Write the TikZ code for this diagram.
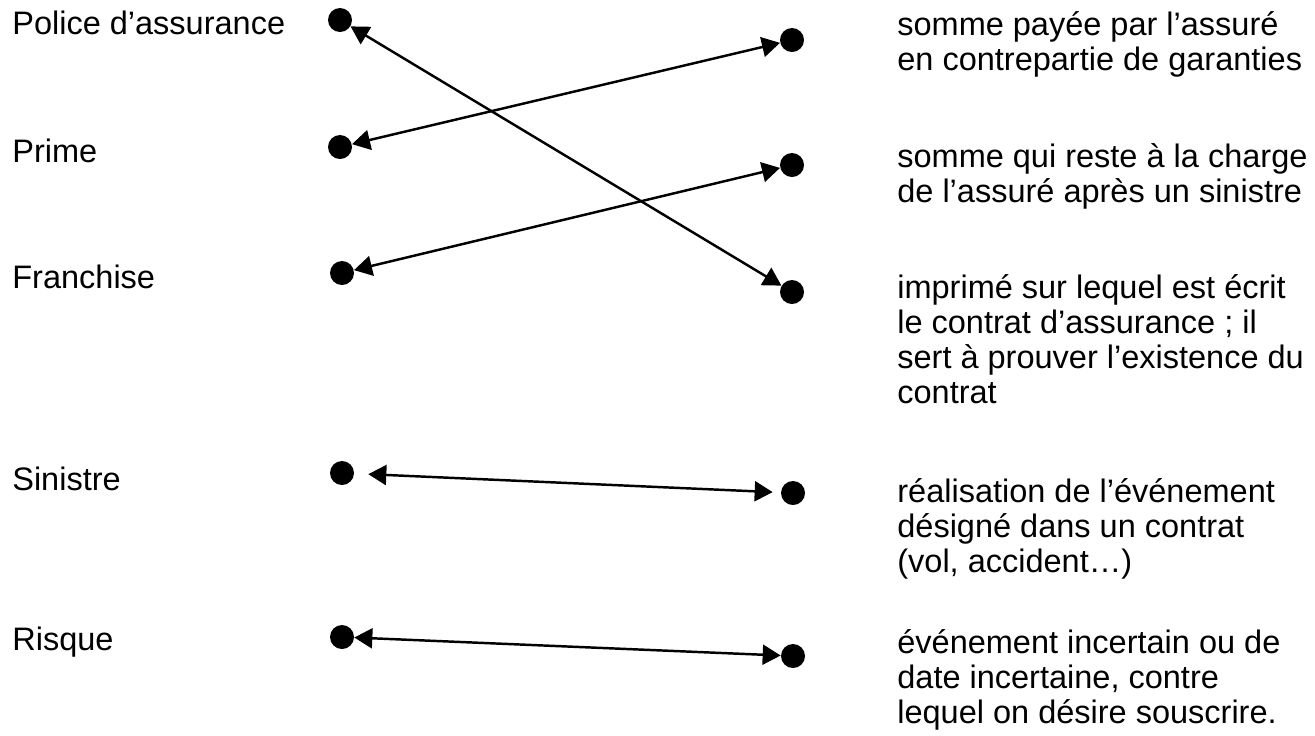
\documentclass[tikz,border=0pt]{standalone}
\usepackage{fontspec}
\setmainfont{Liberation Sans}
\usetikzlibrary{arrows.meta, positioning}

\begin{document}
\begin{tikzpicture}[x=0.02cm, y=-0.02cm,
    dot/.style={circle, fill=black, inner sep=0pt, minimum size=0.48cm},
    term/.style={anchor=base west, inner sep=0pt, font=\fontsize{18.5}{19.9}\selectfont},
    defn/.style={anchor=base west, inner sep=0pt, align=left, font=\fontsize{18.5}{19.9}\selectfont},
    link/.style={{Triangle[length=0.36cm,width=0.4cm]}-{Triangle[length=0.36cm,width=0.4cm]}, line width=1.4pt}]
    \useasboundingbox (0,0) rectangle (1315,735);

    % mots
    \node[term] (police) at (12,34) {Police d’assurance};
    \node[term] (prime) at (12,162) {Prime};
    \node[term] (franchise) at (12,288) {Franchise};
    \node[term] (sinistre) at (12,490) {Sinistre};
    \node[term] (risque) at (12,650) {Risque};

    % definitions (ancre sur la derniere ligne)
    \node[defn] (def1) at (897,70) {somme payée par l’assuré\\en contrepartie de garanties};
    \node[defn] (def2) at (897,202) {somme qui reste à la charge\\de l’assuré après un sinistre};
    \node[defn] (def3) at (897,403) {imprimé sur lequel est écrit\\le contrat d’assurance ; il\\sert à prouver l’existence du\\contrat};
    \node[defn] (def4) at (897,572) {réalisation de l’événement\\désigné dans un contrat\\(vol, accident…)};
    \node[defn] (def5) at (897,723) {événement incertain ou de\\date incertaine, contre\\lequel on désire souscrire.};

    % points
    \node[dot] (l1) at (340,20) {};
    \node[dot] (l2) at (340,147) {};
    \node[dot] (l3) at (342,273) {};
    \node[dot] (l4) at (342,473) {};
    \node[dot] (l5) at (342,637) {};
    \node[dot] (r1) at (792,40) {};
    \node[dot] (r2) at (792,165) {};
    \node[dot] (r3) at (792,292) {};
    \node[dot] (r4) at (793,493) {};
    \node[dot] (r5) at (793,656) {};

    % fleches
    \draw[link] (l1) -- (r3);
    \draw[link] (l2) -- (r1);
    \draw[link] (l3) -- (r2);
    \draw[link, shorten <=0.28cm, shorten >=0.16cm] (l4) -- (r4);
    \draw[link] (l5) -- (r5);
\end{tikzpicture}
\end{document}
